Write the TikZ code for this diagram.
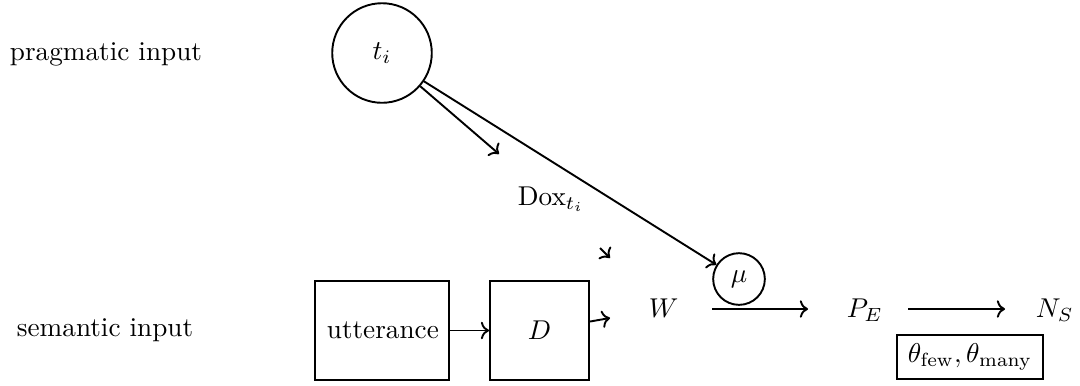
\documentclass[tikz,border=0pt]{standalone}
\usetikzlibrary{arrows.meta}
\begin{document}
\begin{tikzpicture}[x=0.3676pt,y=-0.3676pt,line width=0.7pt,
  >={Computer Modern Rightarrow[length=3pt,width=6.4pt]},
  lbl/.style={inner sep=0pt,anchor=base west},
  circ/.style={draw,circle,inner sep=0pt},
  boxnode/.style={draw,rectangle,inner sep=0pt}]
\useasboundingbox (0,0) rectangle (1080,385);
% row labels
\node[lbl] (prag) at (9,60) {pragmatic input};
\node[lbl] (sem) at (16,336) {semantic input};
% pragmatic part
\node[circ,minimum size=36.6pt] (ti) at (382,53) {$t_i$};
\node[lbl] (dox) at (517,205) {$\mathrm{Dox}_{t_i}$};
\node[circ,minimum size=19pt] (mu) at (739,279) {$\mu$};
% semantic part
\node[boxnode,minimum width=49.3pt,minimum height=36.4pt] (utt) at (382,330.5) {};
\node[lbl] (utttext) at (326,338) {utterance};
\node[boxnode,minimum width=36.4pt,minimum height=36.4pt] (D) at (539.5,330.5) {$D$};
\node[lbl] (W) at (648,317) {$W$};
\node[lbl] (PE) at (846,317) {$P_E$};
\node[lbl] (NS) at (1035,317) {$N_S$};
\node[boxnode,minimum width=53.7pt,minimum height=16.2pt] (theta) at (970,357) {$\theta_{\mathrm{few}},\theta_{\mathrm{many}}$};
% free ends
\coordinate (a1e) at (499,154);
\coordinate (a2s) at (600,248);
\coordinate (a2e) at (610,258);
\coordinate (a3e) at (610,318);
\coordinate (a4s) at (712,309);
\coordinate (a4e) at (808,309);
\coordinate (a5s) at (908,309);
\coordinate (a5e) at (1005,309);
% connectors
\draw[->] (ti.-41) -- (a1e);
\draw[->] (ti.-34.6) -- (mu);
\draw[->] (a2s) -- (a2e);
\draw[->] (utt.east) -- (D.west);
\draw[->] ([yshift=3.3pt]D.east) -- (a3e);
\draw[->] (a4s) -- (a4e);
\draw[->] (a5s) -- (a5e);
\end{tikzpicture}
\end{document}
